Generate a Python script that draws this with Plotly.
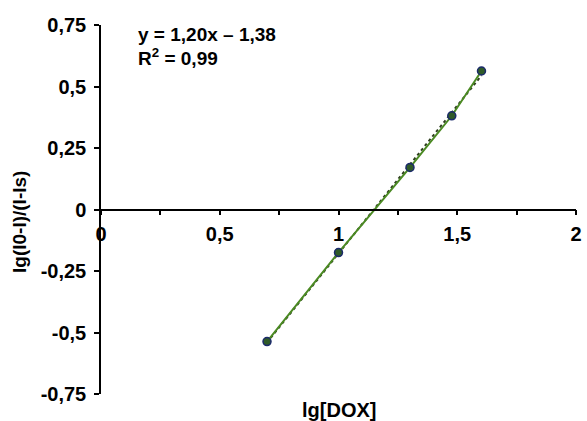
import numpy as np
import plotly.graph_objects as go

# Data
lg_dox = [0.699, 1.0, 1.301, 1.477, 1.602]
lg_ratio = [-0.537, -0.175, 0.171, 0.381, 0.563]

x_tickvals = [0, 0.5, 1.0, 1.5, 2.0]
x_ticktext = ["0", "0,5", "1", "1,5", "2"]
y_tickvals = [-0.75, -0.5, -0.25, 0, 0.25, 0.5, 0.75]
y_ticktext = ["-0,75", "-0,5", "-0,25", "0", "0,25", "0,5", "0,75"]

eq_text = "y = 1,20x – 1,38"
r2_text = "R<sup>2</sup> = 0,99"
x_title = "lg[DOX]"
y_title = "lg(I0-I)/(I-Is)"

# Linear trendline from the data
slope, intercept = np.polyfit(lg_dox, lg_ratio, 1)
trend_x = [min(lg_dox), max(lg_dox)]
trend_y = [slope * v + intercept for v in trend_x]

W, H = 587, 421
L, R, T, B = 101, 11, 25, 27
pw, ph = W - L - R, H - T - B

def px_x(p):
    return (p - L) / pw

def px_y(p):
    return (H - B - p) / ph

FONT = "Liberation Sans, Arial, sans-serif"
FS = 20

fig = go.Figure()
fig.add_trace(go.Scatter(
    x=trend_x, y=trend_y, mode="lines",
    line=dict(color="#2f3f1f", width=2, dash="dot"),
    showlegend=False, hoverinfo="skip"))
fig.add_trace(go.Scatter(
    x=lg_dox, y=lg_ratio, mode="lines+markers",
    line=dict(color="#4b8a23", width=2),
    marker=dict(size=8, color="#2f5a28", line=dict(color="#1b2a6b", width=1.5)),
    showlegend=False))

fig.update_layout(
    width=W, height=H,
    margin=dict(l=L, r=R, t=T, b=B, autoexpand=False),
    paper_bgcolor="white", plot_bgcolor="white",
    font=dict(family=FONT, size=FS, color="black", weight="bold"),
    xaxis=dict(
        range=[0, 2], anchor="free", position=0.5, automargin=False,
        tickvals=x_tickvals, ticktext=x_ticktext,
        ticks="outside", ticklen=5, tickwidth=1.5, tickcolor="black",
        minor=dict(ticks="outside", tick0=0, dtick=0.25, ticklen=5,
                   tickwidth=1.5, tickcolor="black", showgrid=False),
        showline=True, linecolor="black", linewidth=1.5,
        showgrid=False, zeroline=False, ticklabelstandoff=2,
        tickfont=dict(family=FONT, size=FS, weight="bold"),
    ),
    yaxis=dict(
        range=[-0.75, 0.75], automargin=False,
        tickvals=y_tickvals, ticktext=y_ticktext,
        ticks="outside", ticklen=5, tickwidth=1.5, tickcolor="black",
        showline=True, linecolor="black", linewidth=1.5,
        showgrid=False, zeroline=False, ticklabelstandoff=4,
        tickfont=dict(family=FONT, size=FS, weight="bold"),
    ),
    annotations=[
        dict(text=eq_text, xref="paper", yref="paper", x=px_x(137), y=px_y(34),
             xanchor="left", yanchor="middle", showarrow=False, borderpad=0,
             font=dict(family=FONT, size=19, weight="bold")),
        dict(text=r2_text, xref="paper", yref="paper", x=px_x(137), y=px_y(57),
             xanchor="left", yanchor="middle", showarrow=False, borderpad=0,
             font=dict(family=FONT, size=19, weight="bold")),
        dict(text=x_title, xref="paper", yref="paper", x=px_x(339), y=px_y(410),
             xanchor="center", yanchor="middle", showarrow=False,
             font=dict(family=FONT, size=FS, weight="bold")),
        dict(text=y_title, xref="paper", yref="paper", x=px_x(19), y=px_y(222),
             xanchor="center", yanchor="middle", showarrow=False, textangle=-90,
             font=dict(family=FONT, size=19, weight="bold")),
    ],
)

fig.write_html("out.html")
